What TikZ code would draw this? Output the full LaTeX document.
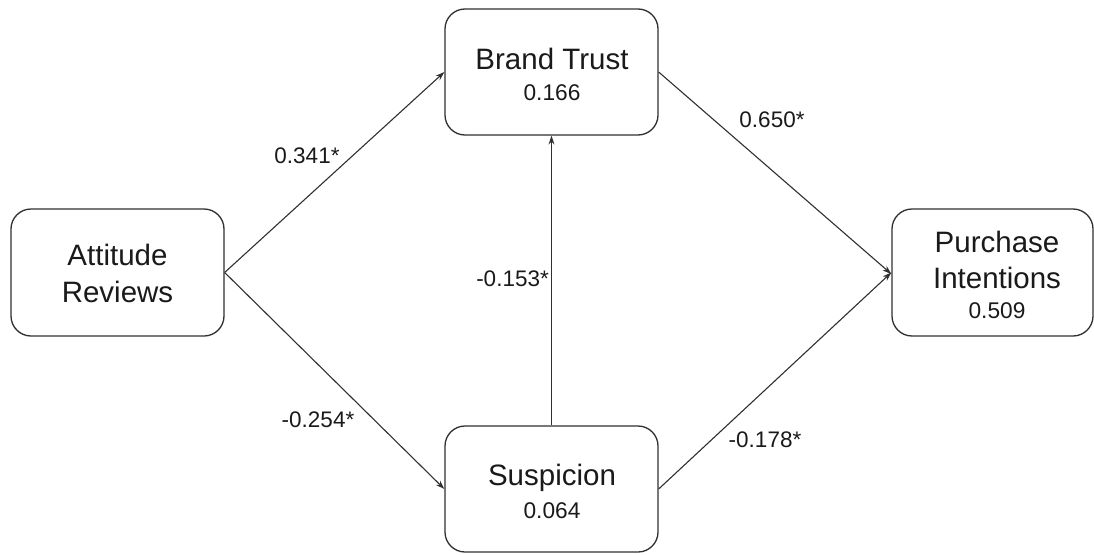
\documentclass[tikz,border=0pt]{standalone}
\usepackage{fontspec}
\setmainfont{Liberation Sans}
\usetikzlibrary{arrows.meta}
\definecolor{linegray}{HTML}{303030}
\definecolor{txt}{HTML}{1A1A1A}
\begin{document}
\begin{tikzpicture}[x=1pt,y=-1pt,
  box/.style={draw=linegray,line width=1.3pt,rounded corners=20pt,fill=white,inner sep=0pt},
  title/.style={anchor=base,text=txt,inner sep=0pt,font=\fontsize{29.5}{35}\selectfont},
  value/.style={anchor=base,text=txt,inner sep=0pt,font=\fontsize{22.7}{27}\selectfont},
  elabel/.style={anchor=base,text=txt,inner sep=0pt,font=\fontsize{22.5}{27}\selectfont},
  link/.style={draw=linegray,line width=1.1pt,-{Stealth[length=9pt,width=6pt]}}]
\useasboundingbox (0,0) rectangle (1094,554);
% boxes
\node[box,minimum width=213pt,minimum height=127pt] (att) at (117.5,272.5) {};
\node[box,minimum width=213pt,minimum height=126pt] (bt) at (551.5,72) {};
\node[box,minimum width=213pt,minimum height=126pt] (sus) at (551.5,489) {};
\node[box,minimum width=201pt,minimum height=127pt] (pi) at (992.5,272.5) {};
% box texts
\node[title] (attA) at (117.5,265) {Attitude};
\node[title] (attB) at (117.5,302) {Reviews};
\node[title] (btA) at (552,69) {Brand Trust};
\node[value] (btB) at (552,100) {0.166};
\node[title] (susA) at (552,485) {Suspicion};
\node[value] (susB) at (552,518) {0.064};
\node[title] (piA) at (997,252) {Purchase};
\node[title] (piB) at (997,288) {Intentions};
\node[value] (piC) at (997,318) {0.509};
% connectors
\draw[link] (att.east) -- (bt.west);
\draw[link] (att.east) -- (sus.west);
\draw[link] (sus.north) -- (bt.south);
\draw[link] (bt.east) -- ([yshift=-1.5pt]pi.west);
\draw[link] (sus.east) -- (pi.west);
% edge labels
\node[elabel] (l1) at (307,163) {0.341*};
\node[elabel] (l2) at (318,427) {-0.254*};
\node[elabel,anchor=base east] (l3) at (549,286) {-0.153*};
\node[elabel] (l4) at (772,127) {0.650*};
\node[elabel] (l5) at (765,447) {-0.178*};
\end{tikzpicture}
\end{document}
